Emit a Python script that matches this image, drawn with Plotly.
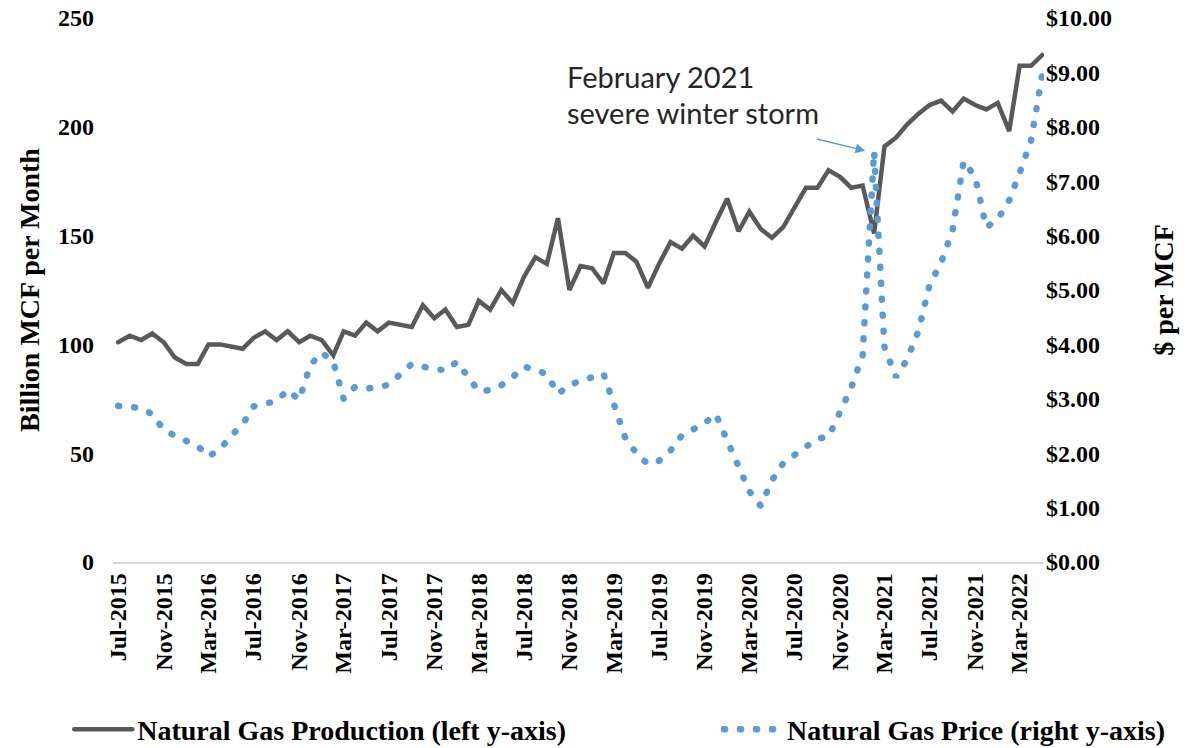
import pandas as pd
import plotly.graph_objects as go

# monthly series, Jul 2015 - May 2022
months = pd.date_range('2015-07-01', '2022-05-01', freq='MS')

production = [101, 104, 102, 105, 101, 94, 91, 91, 100, 100, 99, 98,
              103, 106, 102, 106, 101, 104, 102, 95, 106, 104, 110, 106,
              110, 109, 108, 118, 112, 116, 108, 109, 120, 116, 125, 119,
              131, 140, 137, 158, 125, 136, 135, 128, 142, 142, 138, 126,
              137, 147, 144, 150, 145, 156, 167, 152, 161, 153, 149, 154,
              163, 172, 172, 180, 177, 172, 173, 151, 191, 195, 201, 206,
              210, 212, 207, 213, 210, 208, 211, 198, 228, 228, 233]

price = [2.87, 2.85, 2.83, 2.72, 2.43, 2.32, 2.23, 2.13, 1.94, 2.07, 2.32, 2.53,
         2.86, 2.92, 2.96, 3.16, 2.98, 3.62, 3.85, 3.68, 3.00, 3.22, 3.19, 3.21,
         3.26, 3.45, 3.64, 3.59, 3.55, 3.52, 3.68, 3.42, 3.14, 3.16, 3.25, 3.40,
         3.59, 3.54, 3.45, 3.09, 3.25, 3.33, 3.38, 3.46, 2.90, 2.28, 2.00, 1.80,
         1.86, 2.05, 2.33, 2.45, 2.55, 2.72, 2.25, 1.78, 1.30, 1.03, 1.50, 1.82,
         1.97, 2.15, 2.27, 2.30, 2.75, 3.20, 3.80, 7.55, 3.95, 3.40, 3.72, 4.25,
         5.10, 5.50, 6.10, 7.37, 7.08, 6.15, 6.30, 6.65, 7.15, 7.75, 8.95]

SERIF = 'Liberation Serif'
bold = dict(family=SERIF, size=24, color='#000000', weight='bold')
title_font = dict(family=SERIF, size=28, color='#000000', weight='bold')
legend_font = dict(family=SERIF, size=28, color='#000000', weight='bold')
note_font = dict(family='Lato', size=29, color='#262626')

fig = go.Figure()

fig.add_trace(go.Scatter(
    name='Natural Gas Production (left y-axis)',
    x=months, y=production,
    mode='lines',
    line=dict(color='#595959', width=4.5),
    legend='legend',
    showlegend=True
))

fig.add_trace(go.Scatter(
    name='Natural Gas Price (right y-axis)',
    x=months, y=price,
    mode='lines',
    line=dict(color='#5b9bd5', width=6.5, dash='1px,15px'),
    yaxis='y2',
    legend='legend2',
    showlegend=True
))

fig.add_annotation(text='February 2021', xref='paper', yref='paper',
                   x=0.486, y=0.892, xanchor='left', yanchor='middle',
                   showarrow=False, font=note_font)
fig.add_annotation(text='severe winter storm', xref='paper', yref='paper',
                   x=0.486, y=0.827, xanchor='left', yanchor='middle',
                   showarrow=False, font=note_font)
# arrow to the Feb 2021 spike
fig.add_annotation(text='', xref='paper', yref='paper', x=0.808, y=0.756,
                   ax=-50, ay=-12, showarrow=True, arrowhead=2, arrowsize=1.3,
                   arrowwidth=1.5, arrowcolor='#5b9bd5')

fig.update_layout(
    width=1194, height=748,
    margin=dict(l=113, r=150, t=18, b=186, autoexpand=False),
    plot_bgcolor='white', paper_bgcolor='white',
    font=dict(family=SERIF, color='#000000'),
    showlegend=True,
    xaxis=dict(
        type='date',
        range=['2015-06-17', '2022-05-06'],
        tick0='2015-07-01', dtick='M4', tickformat='%b-%Y',
        tickangle=-90, tickfont=bold,
        showgrid=False, showline=True, linecolor='#d9d9d9', linewidth=1.5,
        ticks='', zeroline=False, automargin=False
    ),
    yaxis=dict(
        range=[0, 250], dtick=50, tickfont=bold,
        title=dict(text='Billion MCF per Month', font=title_font, standoff=10),
        showgrid=False, zeroline=False, ticks='', ticklabelstandoff=18,
        automargin=False
    ),
    yaxis2=dict(
        range=[0, 10], dtick=1, tickprefix='$', tickformat='.2f', tickfont=bold,
        title=dict(text='$ per MCF', font=title_font, standoff=42),
        overlaying='y', side='right', showgrid=False, zeroline=False, ticks='',
        ticklabelstandoff=1, automargin=False
    ),
    legend=dict(orientation='h', x=-0.047, y=-0.308, xanchor='left', yanchor='middle',
                font=legend_font, itemwidth=58),
    legend2=dict(orientation='h', x=0.651, y=-0.308, xanchor='left', yanchor='middle',
                 font=legend_font, itemwidth=58),
)

# round dots like the original dotted line, and no page margin
css = ("document.body.style.margin='0';"
       "var s=document.createElement('style');"
       "s.textContent='.js-line{stroke-linecap:round}';"
       "document.head.appendChild(s);")

fig.write_html("out.html", post_script=css, config={'displayModeBar': False})
